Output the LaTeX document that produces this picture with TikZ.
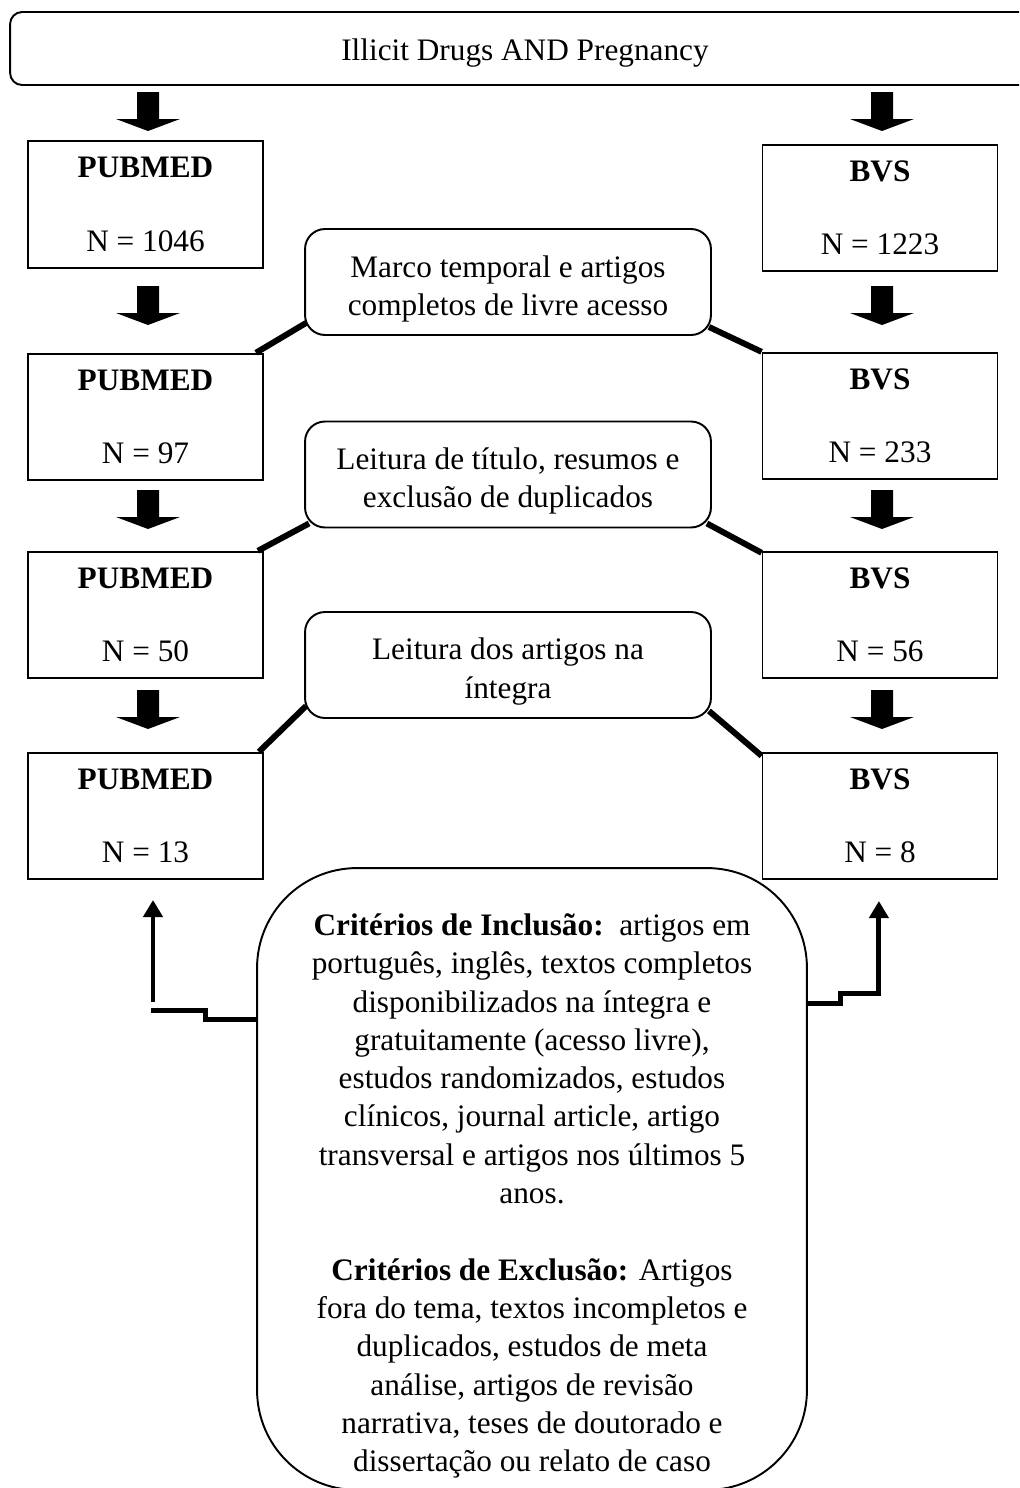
\documentclass[tikz,border=0pt]{standalone}
\usepackage{fontspec}
\setmainfont{Liberation Serif}
\usetikzlibrary{arrows.meta}
\tikzset{
  base/.style={draw, line width=1.1pt, align=center, inner sep=0pt,
    font=\fontsize{17.8}{21.8}\selectfont},
  dbbox/.style={base, minimum width=4.7cm, minimum height=2.53cm},
  filterbox/.style={base, rounded corners=0.4cm, minimum width=8.12cm, minimum height=2.12cm},
  link/.style={line width=3.4pt},
  feedback/.style={line width=2.8pt},
  tip/.style={-{Triangle[width=0.38cm,length=0.34cm]}}
}
\newcommand{\blockarrow}[2]{%
  \fill (#1-11,#2)--(#1+11,#2)--(#1+11,#2+27)--(#1+32,#2+27)--(#1,#2+39)
       --(#1-32,#2+27)--(#1-11,#2+27)--cycle;}
\newcommand{\toprule}[1]{\rule{0pt}{#1}}
\begin{document}
\begin{tikzpicture}[x=0.02cm,y=-0.02cm]
    \clip (0,0) rectangle (1019,1488);
    \node[base, rounded corners=0.24cm, minimum width=20.6cm, minimum height=1.46cm]
         (query) at (525,48.5) {\toprule{0.62cm}Illicit Drugs AND Pregnancy};

    \node[dbbox] (p1) at (145.5,204.5) {\textbf{PUBMED}\\[0.7cm] N = 1046};
    \node[dbbox] (p2) at (145.5,417) {\textbf{PUBMED}\\[0.7cm] N = 97};
    \node[dbbox] (p3) at (145.5,615) {\textbf{PUBMED}\\[0.7cm] N = 50};
    \node[dbbox] (p4) at (145.5,816) {\textbf{PUBMED}\\[0.7cm] N = 13};
    \node[dbbox] (b1) at (880,208) {\textbf{BVS}\\[0.7cm] N = 1223};
    \node[dbbox] (b2) at (880,416) {\textbf{BVS}\\[0.7cm] N = 233};
    \node[dbbox] (b3) at (880,615) {\textbf{BVS}\\[0.7cm] N = 56};
    \node[dbbox] (b4) at (880,816) {\textbf{BVS}\\[0.7cm] N = 8};

    \node[filterbox] (f1) at (508,282) {\toprule{0.7cm}Marco temporal e artigos\\completos de livre acesso};
    \node[filterbox] (f2) at (508,474.5) {\toprule{0.7cm}Leitura de título, resumos e\\exclusão de duplicados};
    \node[filterbox] (f3) at (508,665) {\toprule{0.7cm}Leitura dos artigos na\\íntegra};

    \foreach \t in {92,286,490,690}{\blockarrow{148}{\t}\blockarrow{882}{\t}}

    \draw[link] ([shift={(2,-13)}]f1.south west) -- ([xshift=-0.16cm]p2.north east);
    \draw[link] ([shift={(-3,-9)}]f1.south east) -- (b2.north west);
    \draw[link] ([shift={(5,-5)}]f2.south west) -- ([xshift=-0.12cm]p3.north east);
    \draw[link] ([shift={(-5,-5)}]f2.south east) -- ([yshift=-0.04cm]b3.north west);
    \draw[link] ([shift={(2,-13)}]f3.south west) -- ([xshift=-0.1cm]p4.north east);
    \draw[link] ([shift={(-3,-8)}]f3.south east) -- ([yshift=-0.08cm]b4.north west);

    \node[base, rounded corners=2cm, minimum width=11cm, minimum height=12.44cm] (crit) at (532,1179) {};
    \node[base, draw=none] (crittext) at (532,1196) {\textbf{Critérios de Inclusão:}\ \ artigos em\\
      português, inglês, textos completos\\
      disponibilizados na íntegra e\\
      gratuitamente (acesso livre),\\
      estudos randomizados, estudos\\
      clínicos, journal article, artigo\\
      transversal e artigos nos últimos 5\\
      anos.\\[21.8pt]
      \textbf{Critérios de Exclusão:} Artigos\\
      fora do tema, textos incompletos e\\
      duplicados, estudos de meta\\
      análise, artigos de revisão\\
      narrativa, teses de doutorado e\\
      dissertação ou relato de caso};

    \coordinate (lfoot) at (153,1002);
    \coordinate (ltip) at (153,900);
    \draw[feedback, tip] (lfoot) -- (ltip);
    \draw[feedback] ([yshift=3.2cm]crit.west) -- ++(-51,0) -- ++(0,-9) -- ++(-54,0);
    \draw[feedback, tip] ([yshift=3.52cm]crit.east) -- ++(33,0) -- ++(0,-10) -- ++(38,0) -- ++(0,-92);
\end{tikzpicture}
\end{document}
